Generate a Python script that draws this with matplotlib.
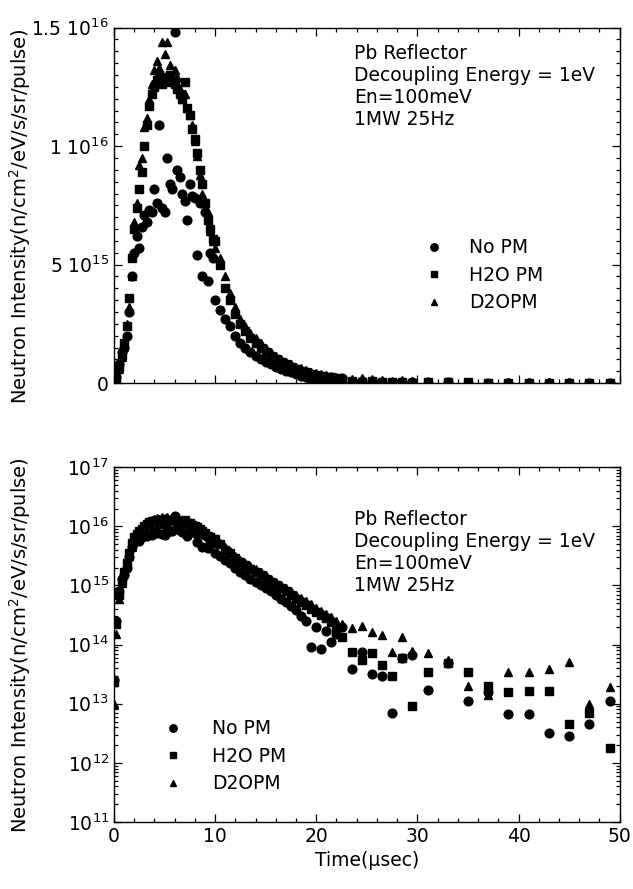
import matplotlib
matplotlib.use("Agg")
import matplotlib.pyplot as plt
import matplotlib.ticker as mticker
import numpy as np

# time of flight grid (usec), shared by the three moderator cases
time_us = [0, 0.25, 0.5, 0.75, 1.0, 1.25, 1.5, 1.75, 2.0, 2.25, 2.5, 2.75, 3.0,
           3.25, 3.5, 3.75, 4.0, 4.25, 4.5, 4.75, 5.0, 5.25, 5.5, 5.75, 6.0,
           6.25, 6.5, 6.75, 7.0, 7.25, 7.5, 7.75, 8.0, 8.25, 8.5, 8.75, 9.0,
           9.25, 9.5, 9.75, 10.0,
           10.5, 11.0, 11.5, 12.0, 12.5, 13.0, 13.5, 14.0, 14.5, 15.0, 15.5,
           16.0, 16.5, 17.0, 17.5, 18.0, 18.5, 19.0, 19.5, 20.0, 20.5, 21.0,
           21.5, 22.0, 22.5,
           23.5, 24.5, 25.5, 26.5, 27.5, 28.5, 29.5,
           31, 33, 35, 37, 39, 41, 43, 45, 47, 49]

# intensities in units of 1e15 n/cm2/eV/s/sr/pulse
no_pm = [0.025, 0.25, 0.8, 1.3, 1.5, 2.0, 3.0, 4.5, 5.5, 6.2, 5.7, 6.6, 7.1,
         6.8, 7.3, 7.2, 8.2, 7.6, 10.9, 7.4, 7.2, 9.5, 8.4, 8.2, 14.8,
         9.0, 8.7, 8.0, 7.7, 6.9, 8.4, 7.9, 7.8, 5.4, 7.6, 4.5, 7.2,
         4.3, 5.5, 5.3, 3.5,
         3.1, 2.7, 2.4, 2.0, 1.7, 1.5, 1.3, 1.15, 1.0, 0.9, 0.8,
         0.7, 0.6, 0.52, 0.45, 0.38, 0.3, 0.25, 0.091, 0.2, 0.085, 0.17,
         0.11, 0.15, 0.2,
         0.038, 0.076, 0.032, 0.03, 0.0069, 0.06, 0.066,
         0.017, 0.049, 0.011, 0.016, 0.0066, 0.0066, 0.0032, 0.0028, 0.0045, 0.011]

h2o_pm = [0.023, 0.22, 0.7, 1.2, 1.7, 2.4, 3.6, 5.3, 6.5, 7.4, 8.2, 8.9, 10.0,
          10.9, 11.7, 12.2, 12.5, 12.8, 13.0, 12.6, 12.9, 12.7, 13.0, 12.8, 12.6,
          12.4, 12.2, 12.0, 12.7, 11.6, 11.3, 10.7, 10.3, 9.7, 9.0, 8.4, 7.6,
          6.9, 6.5, 6.1, 6.0,
          5.0, 4.0, 3.5, 2.9, 2.5, 2.2, 1.9, 1.7, 1.5, 1.3, 1.15,
          1.0, 0.9, 0.8, 0.7, 0.6, 0.52, 0.46, 0.4, 0.36, 0.32, 0.28,
          0.24, 0.2, 0.135,
          0.076, 0.055, 0.071, 0.045, 0.029, 0.059, 0.0093,
          0.034, 0.049, 0.034, 0.02, 0.0155, 0.0166, 0.0166, 0.0046, 0.0069, 0.0018]

d2o_pm = [0.010, 0.15, 0.6, 1.1, 1.6, 2.5, 3.2, 4.5, 6.8, 7.6, 9.2, 9.5, 10.8,
          11.2, 12.0, 12.6, 13.2, 13.6, 13.3, 14.4, 13.9, 14.4, 13.4, 13.0, 13.2,
          12.9, 12.4, 12.0, 12.2, 11.6, 11.3, 10.9, 10.2, 9.6, 8.8, 8.0, 7.4,
          7.2, 6.4, 6.0, 5.7,
          5.3, 4.5, 3.8, 3.2, 2.7, 2.4, 2.1, 1.9, 1.7, 1.5, 1.3,
          1.15, 1.0, 0.9, 0.8, 0.7, 0.62, 0.55, 0.48, 0.42, 0.37, 0.33,
          0.29, 0.25, 0.22,
          0.19, 0.21, 0.166, 0.145, 0.076, 0.135, 0.079,
          0.072, 0.056, 0.02, 0.014, 0.034, 0.035, 0.038, 0.051, 0.01, 0.019]

scale = 1e15
series = [("No PM", no_pm, "o", 6.3),
          ("H2O PM", h2o_pm, "s", 5.6),
          ("D2OPM", d2o_pm, "^", 5.6)]

info = "Pb Reflector\nDecoupling Energy = 1eV\nEn=100meV\n1MW 25Hz"
ylab = r"Neutron Intensity(n/cm$^2$/eV/s/sr/pulse)"

plt.rcParams["font.family"] = "DejaVu Sans"
plt.rcParams["mathtext.default"] = "regular"

fig = plt.figure(figsize=(6.33, 8.89), dpi=100)
ax1 = fig.add_axes([0.180, 0.569, 0.799, 0.400])
ax2 = fig.add_axes([0.180, 0.0754, 0.799, 0.399])

t = np.array(time_us)
for ax in (ax1, ax2):
    # draw triangles first so squares/circles sit on top like the original
    for name, vals, mk, ms in series[::-1]:
        ax.plot(t, np.array(vals) * scale, linestyle="none", marker=mk,
                markersize=ms, color="black", label=name)
    ax.set_xlim(0, 50)
    ax.xaxis.set_major_locator(mticker.MultipleLocator(10))
    ax.xaxis.set_minor_locator(mticker.MultipleLocator(2))
    ax.tick_params(which="both", direction="in", top=True, right=True,
                   labelsize=13.5, width=0.9)
    ax.tick_params(which="major", length=6)
    ax.tick_params(which="minor", length=3)
    for sp in ax.spines.values():
        sp.set_linewidth(1.0)
    ax.set_ylabel(ylab, fontsize=14)

# top: linear scale
ax1.set_ylim(0, 1.5e16)
ax1.yaxis.set_major_locator(mticker.FixedLocator([0, 5e15, 1e16, 1.5e16]))
ax1.yaxis.set_major_formatter(mticker.FixedFormatter(
    ["0", r"5 10$^{15}$", r"1 10$^{16}$", r"1.5 10$^{16}$"]))
ax1.yaxis.set_minor_locator(mticker.MultipleLocator(5e14))
ax1.tick_params(axis="x", labelbottom=False)
ax1.yaxis.set_label_coords(-0.16, 0.47)
ax1.text(0.475, 0.955, info, transform=ax1.transAxes, fontsize=13.5,
         va="top", ha="left")
h, l = ax1.get_legend_handles_labels()
ax1.legend(h[::-1], l[::-1], loc="upper left", bbox_to_anchor=(0.58, 0.455),
           frameon=False, fontsize=13.5, handlelength=1.0, handletextpad=1.4,
           labelspacing=0.45, markerscale=0.85)

# bottom: log scale
ax2.set_yscale("log")
ax2.set_ylim(1e11, 1e17)
ax2.yaxis.set_major_locator(mticker.LogLocator(base=10, numticks=10))
ax2.yaxis.set_minor_locator(mticker.LogLocator(base=10, subs=np.arange(2, 10), numticks=20))
ax2.yaxis.set_minor_formatter(mticker.NullFormatter())
ax2.yaxis.set_label_coords(-0.16, 0.5)
ax2.set_xlabel("Time(\u03bcsec)", fontsize=13.5)
ax2.text(0.475, 0.88, info, transform=ax2.transAxes, fontsize=13.5,
         va="top", ha="left")
h, l = ax2.get_legend_handles_labels()
ax2.legend(h[::-1], l[::-1], loc="upper left", bbox_to_anchor=(0.064, 0.337),
           frameon=False, fontsize=13.5, handlelength=1.0, handletextpad=1.6,
           labelspacing=0.45, markerscale=0.85)

fig.savefig("out.png", dpi=100)
